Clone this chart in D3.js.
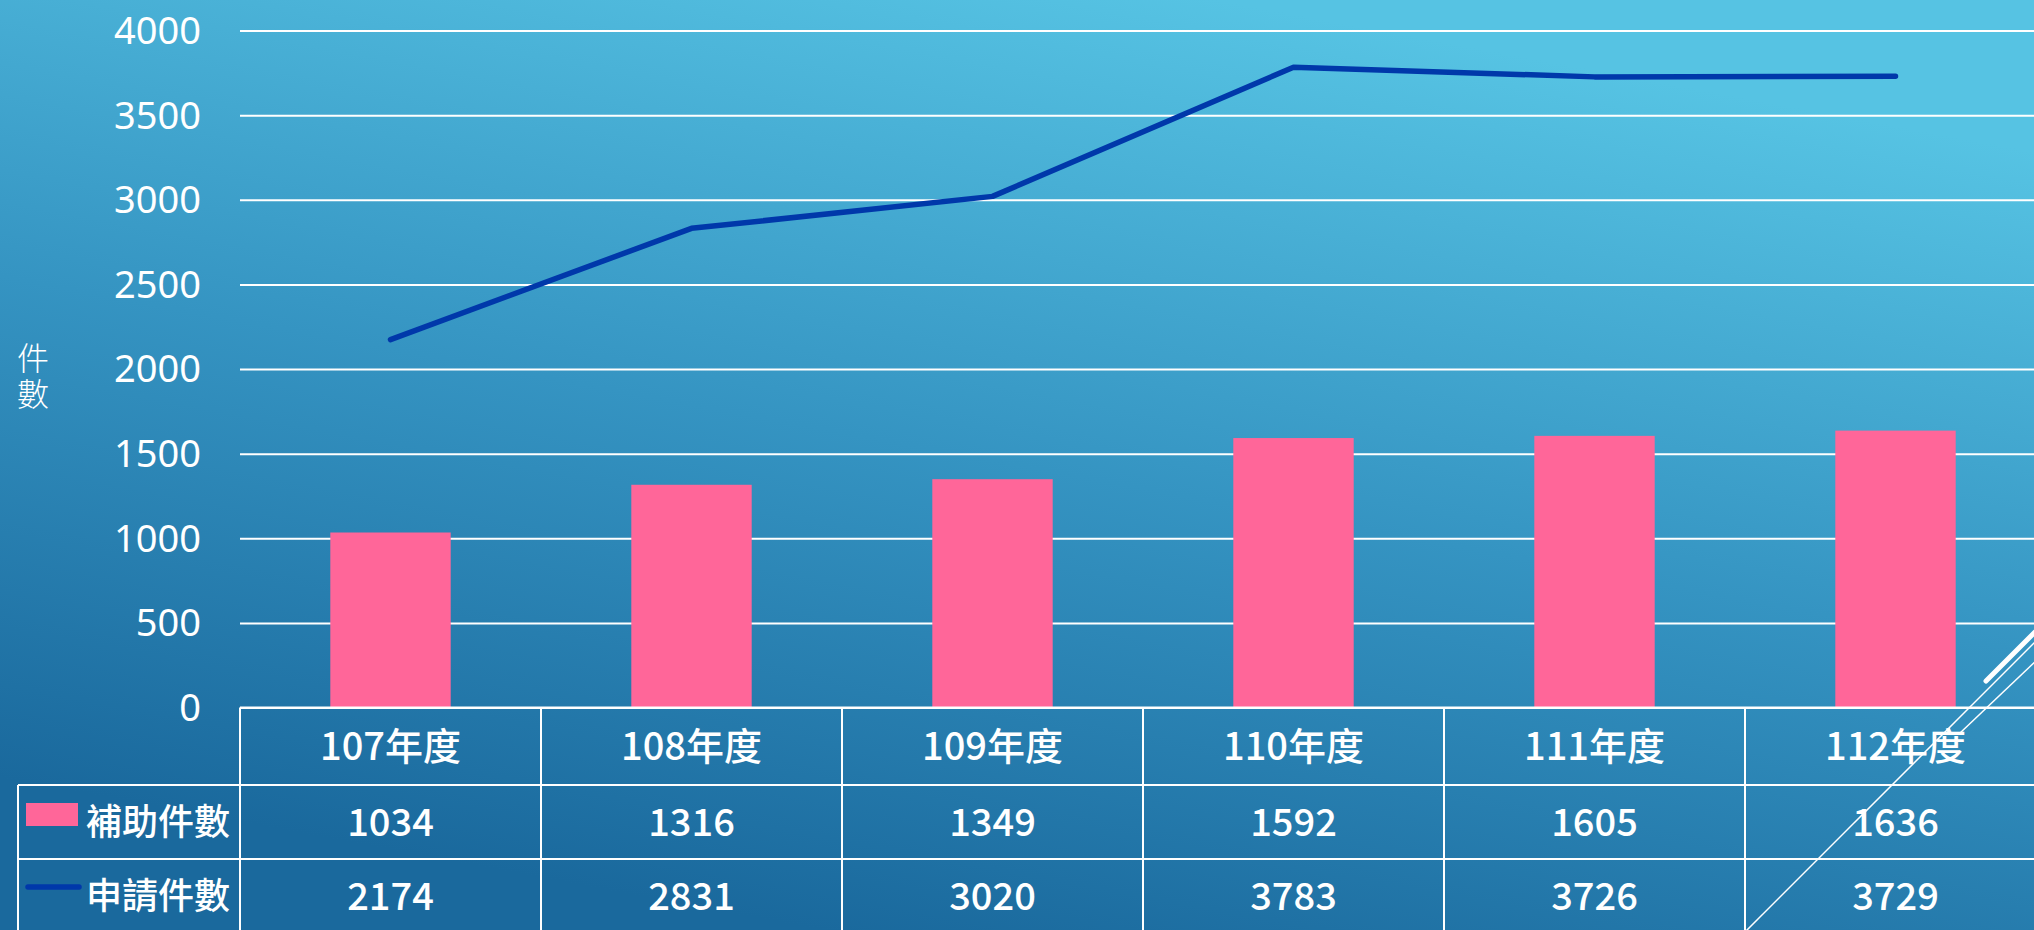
<!DOCTYPE html>
<html>
<head>
<meta charset="utf-8">
<script src="https://cdn.jsdelivr.net/npm/d3@7"></script>
<style>
  html, body { margin: 0; padding: 0; overflow: hidden; }
  text { fill: #fff; }
</style>
</head>
<body>
<div id="chart"></div>
<script>
// data
let years = ["107年度", "108年度", "109年度", "110年度", "111年度", "112年度"];
let grantCounts = [1034, 1316, 1349, 1592, 1605, 1636];
let applyCounts = [2174, 2831, 3020, 3783, 3726, 3729];
let yTicks = [0, 500, 1000, 1500, 2000, 2500, 3000, 3500, 4000];
let seriesNames = ["補助件數", "申請件數"];
let yTitle = "件數";

let width = 2034;
let height = 930;
let left = 240;
let colWidth = 301;
let rowTops = [707.5, 785, 859, 933];
let legendLeft = 18;

let barColor = "#ff6699";
let lineColor = "#0038aa";
let cjkFont = "'Noto Sans CJK TC', 'Noto Sans', sans-serif";

let svg = d3.select("#chart").append("svg")
    .attr("width", width)
    .attr("height", height);

// background gradient, mostly vertical, dark at the bottom
let defs = svg.append("defs");
let grad = defs.append("linearGradient")
    .attr("id", "bg")
    .attr("gradientUnits", "userSpaceOnUse")
    .attr("x1", 930).attr("y1", 950)
    .attr("x2", 1110).attr("y2", -20);
grad.append("stop").attr("offset", "0%").attr("stop-color", "#1a699d");
grad.append("stop").attr("offset", "50%").attr("stop-color", "#3594c2");
grad.append("stop").attr("offset", "100%").attr("stop-color", "#56c3e3");

svg.append("rect")
    .attr("width", width)
    .attr("height", height)
    .attr("fill", "url(#bg)");

let xScale = d3.scaleBand()
    .domain(years)
    .range([left, left + colWidth * years.length])
    .paddingInner(0)
    .paddingOuter(0);

let yScale = d3.scaleLinear()
    .domain([0, 4000])
    .range([rowTops[0], 30.5]);

// gridlines + tick labels
let yAxis = d3.axisLeft(yScale)
    .tickValues(yTicks)
    .tickSize(-(width - left))
    .tickPadding(39)
    .tickFormat(d => d);

let gY = svg.append("g")
    .attr("transform", "translate(" + left + ",0)")
    .call(yAxis);
gY.select(".domain").remove();
gY.selectAll(".tick line")
    .attr("stroke", "#fff")
    .attr("stroke-width", 2);
gY.selectAll(".tick text")
    .attr("fill", "#fff")
    .style("font-family", "'Noto Sans', sans-serif")
    .style("font-size", "38px")
    .attr("dy", "0.34em");

// y title, written top to bottom
svg.append("text")
    .attr("x", 33)
    .attr("y", 378)
    .attr("text-anchor", "middle")
    .style("writing-mode", "vertical-rl")
    .style("letter-spacing", "4px")
    .style("font-family", cjkFont)
    .style("font-weight", 300)
    .style("font-size", "32px")
    .text(yTitle);

// bars
let barW = xScale.bandwidth() * 0.4;
svg.append("g").selectAll("rect")
    .data(grantCounts)
    .enter()
    .append("rect")
    .attr("x", (d, i) => xScale(years[i]) + (xScale.bandwidth() - barW) / 2)
    .attr("y", d => yScale(d))
    .attr("width", barW)
    .attr("height", d => yScale(0) - yScale(d))
    .attr("fill", barColor);

// line
let line = d3.line()
    .x((d, i) => xScale(years[i]) + xScale.bandwidth() / 2)
    .y(d => yScale(d));

svg.append("path")
    .datum(applyCounts)
    .attr("d", line)
    .attr("fill", "none")
    .attr("stroke", lineColor)
    .attr("stroke-width", 5.5)
    .attr("stroke-linecap", "round")
    .attr("stroke-linejoin", "round");

// data table under the chart
let table = svg.append("g")
    .attr("stroke", "#fff")
    .attr("stroke-width", 2);

table.append("line")
    .attr("x1", left).attr("x2", width)
    .attr("y1", rowTops[0]).attr("y2", rowTops[0]);
table.selectAll(".hrow")
    .data([rowTops[1], rowTops[2]])
    .enter()
    .append("line")
    .attr("x1", legendLeft).attr("x2", width)
    .attr("y1", d => d).attr("y2", d => d);
table.append("line")
    .attr("x1", legendLeft).attr("x2", legendLeft)
    .attr("y1", rowTops[1]).attr("y2", height);
table.selectAll(".vcol")
    .data(years)
    .enter()
    .append("line")
    .attr("x1", d => xScale(d)).attr("x2", d => xScale(d))
    .attr("y1", rowTops[0]).attr("y2", height);

let rowMid = i => (rowTops[i] + rowTops[i + 1]) / 2;

let cells = svg.append("g")
    .style("font-family", cjkFont)
    .style("font-weight", 500)
    .style("font-size", "38px")
    .attr("text-anchor", "middle");

cells.selectAll(".cat")
    .data(years)
    .enter()
    .append("text")
    .attr("x", d => xScale(d) + xScale.bandwidth() / 2)
    .attr("y", rowMid(0))
    .attr("dy", "0.36em")
    .text(d => d);

[grantCounts, applyCounts].forEach((vals, r) => {
  cells.selectAll(".v" + r)
      .data(vals)
      .enter()
      .append("text")
      .attr("x", (d, i) => xScale(years[i]) + xScale.bandwidth() / 2)
      .attr("y", rowMid(r + 1))
      .attr("dy", "0.36em")
      .text(d => d);
});

// legend keys in the first column
let legend = svg.append("g");
legend.append("rect")
    .attr("x", 26).attr("y", 803)
    .attr("width", 52).attr("height", 23)
    .attr("fill", barColor);
legend.append("line")
    .attr("x1", 28).attr("x2", 79)
    .attr("y1", 887).attr("y2", 887)
    .attr("stroke", lineColor)
    .attr("stroke-width", 5.5)
    .attr("stroke-linecap", "round");
legend.selectAll("text")
    .data(seriesNames)
    .enter()
    .append("text")
    .attr("x", 86)
    .attr("y", (d, i) => rowMid(i + 1))
    .attr("dy", "0.36em")
    .style("font-family", cjkFont)
    .style("font-weight", 500)
    .style("font-size", "36px")
    .text(d => d);

// decorative diagonal strokes, bottom right
let deco = svg.append("g").attr("stroke", "#fff").attr("fill", "none");
deco.append("line")
    .attr("x1", 1986).attr("y1", 681).attr("x2", 2040).attr("y2", 627)
    .attr("stroke-width", 5).attr("stroke-linecap", "round");
deco.append("line")
    .attr("x1", 1745).attr("y1", 932).attr("x2", 2040).attr("y2", 637)
    .attr("stroke-width", 1.5);
deco.append("line")
    .attr("x1", 1959).attr("y1", 734).attr("x2", 2040).attr("y2", 657)
    .attr("stroke-width", 1.5);
</script>
</body>
</html>
